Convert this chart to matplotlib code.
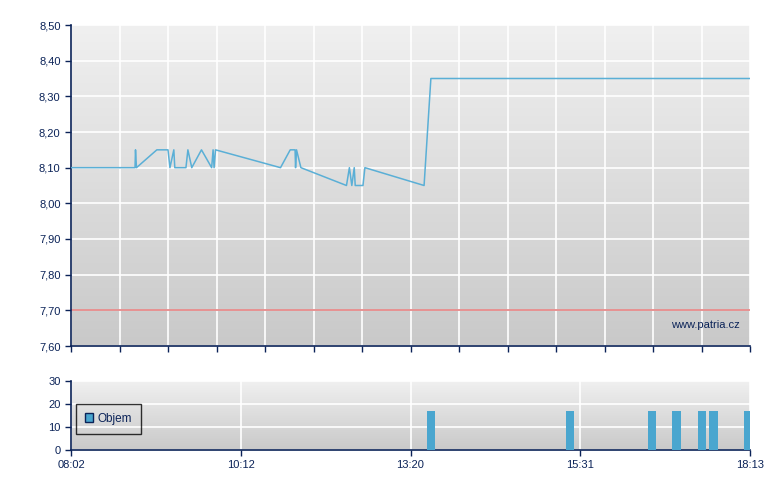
import matplotlib.pyplot as plt
import numpy as np
from matplotlib.colors import LinearSegmentedColormap
from matplotlib.ticker import FuncFormatter, MultipleLocator

# x = position along the trading session axis (0 = 08:02, 14 = 18:13)
price_x = [0, 1.32, 1.33, 1.35, 1.77, 2.00, 2.04, 2.12, 2.14, 2.37, 2.41, 2.49,
           2.69, 2.90, 2.93, 2.95, 2.98, 4.32, 4.52, 4.62, 4.63, 4.65, 4.74,
           5.68, 5.74, 5.79, 5.84, 5.86, 6.02, 6.06, 7.28, 7.42, 14.0]
price_y = [8.10, 8.10, 8.15, 8.10, 8.15, 8.15, 8.10, 8.15, 8.10, 8.10, 8.15, 8.10,
           8.15, 8.10, 8.15, 8.10, 8.15, 8.10, 8.15, 8.15, 8.10, 8.15, 8.10,
           8.05, 8.10, 8.05, 8.10, 8.05, 8.05, 8.10, 8.05, 8.35, 8.35]
prev_close = 7.70

vol_x = [7.42, 10.29, 11.98, 12.49, 13.01, 13.24, 13.97]
vol_y = [17, 17, 17, 17, 17, 17, 17]

time_ticks = [0, 3.5, 7, 10.5, 14]
time_labels = ["08:02", "10:12", "13:20", "15:31", "18:13"]

navy = "#0b2358"
line_col = "#5aafd6"
bar_col = "#4aa6cf"
plt.rcParams['font.family'] = ['Liberation Sans', 'DejaVu Sans']

fig = plt.figure(figsize=(7.8, 4.9), dpi=100)
ax = fig.add_axes([71/780, 1-346/490, 679/780, 321/490])
axv = fig.add_axes([71/780, 1-450/490, 679/780, 69/490])

grad = LinearSegmentedColormap.from_list("g", ["#c9c9c9", "#f0f0f0"])
for a in (ax, axv):
    a.imshow(np.linspace(0, 1, 256)[:, None], extent=[0, 1, 0, 1], transform=a.transAxes,
             cmap=grad, aspect="auto", origin="lower", zorder=0)
    for s in ("top", "right"):
        a.spines[s].set_visible(False)
    for s in ("left", "bottom"):
        a.spines[s].set_color(navy)
        a.spines[s].set_linewidth(1.2)
    a.tick_params(colors=navy, labelcolor=navy, labelsize=8, length=4, width=1, direction="out")
    a.grid(True, color="white", lw=1.2, zorder=1)
    a.set_axisbelow(True)

# price panel
ax.plot(price_x, price_y, color=line_col, lw=1.1, zorder=3)
ax.axhline(prev_close, color="#e38080", lw=1.2, zorder=2)
ax.set_xlim(0, 14)
ax.set_ylim(7.60, 8.50)
ax.yaxis.set_major_locator(MultipleLocator(0.1))
ax.yaxis.set_major_formatter(FuncFormatter(lambda v, p: f"{v:.2f}".replace(".", ",")))
ax.xaxis.set_major_locator(MultipleLocator(1))
ax.tick_params(axis="x", labelbottom=False)
ax.text(0.985, 0.065, "www.patria.cz", transform=ax.transAxes, ha="right", va="center",
        fontsize=8, color=navy, zorder=4)

# volume panel
axv.bar(vol_x, vol_y, width=0.18, color=bar_col, zorder=3, label="Objem")
axv.set_xlim(0, 14)
axv.set_ylim(0, 30)
axv.set_yticks([0, 10, 20, 30])
axv.set_xticks(time_ticks)
axv.set_xticklabels(time_labels)
leg = axv.legend(loc="center left", bbox_to_anchor=(0.007, 0.45), fontsize=8.5, frameon=True,
                 fancybox=False, handlelength=0.7, handleheight=0.8, handletextpad=0.3,
                 borderpad=0.8, borderaxespad=0, labelcolor=navy)
leg.get_frame().set_edgecolor("black")
leg.get_frame().set_facecolor("none")
leg.legend_handles[0].set_edgecolor(navy)

fig.savefig("out.png", dpi=100)
